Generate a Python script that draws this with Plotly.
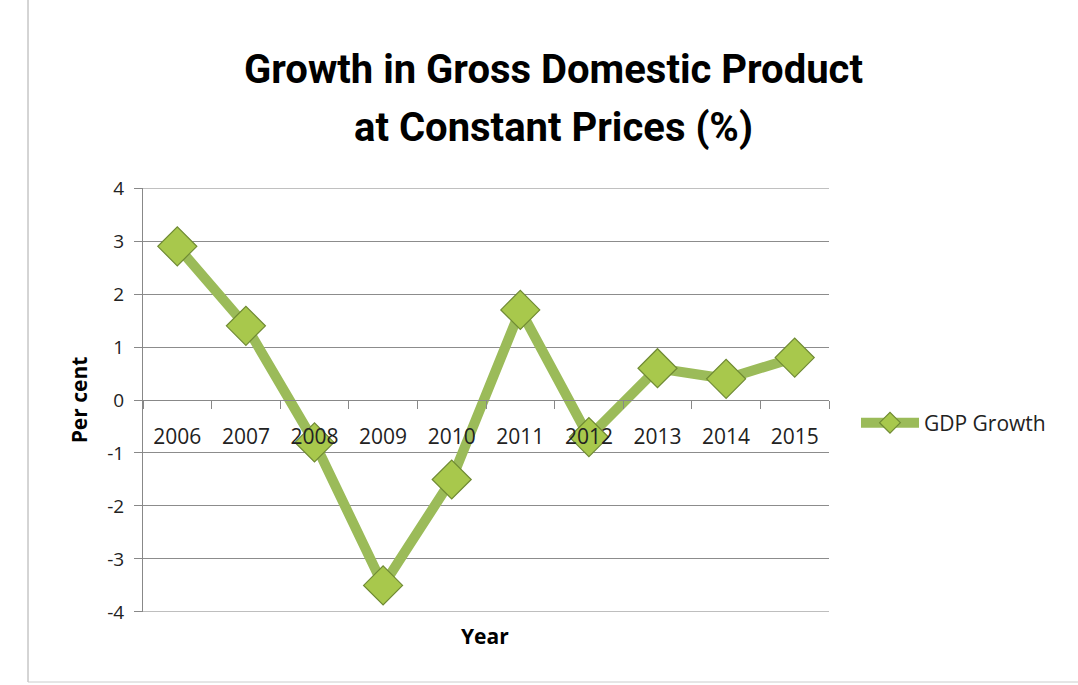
import plotly.graph_objects as go

years = ["2006", "2007", "2008", "2009", "2010", "2011", "2012", "2013", "2014", "2015"]
gdp_growth = [2.9, 1.4, -0.8, -3.5, -1.5, 1.7, -0.7, 0.6, 0.4, 0.8]
y_ticks = [-4, -3, -2, -1, 0, 1, 2, 3, 4]
y_tick_text = ["-4", "-3", "-2", "-1", "0", "1", "2", "3", "4"]
title_lines = ["Growth in Gross Domestic Product", "at Constant Prices (%)"]

W, H = 1078, 685
L, R, T, B = 143, 249, 188, 73
pw, ph = W - L - R, H - T - B

def px_x(p):
    return (p - L) / pw

def px_y(p):
    return (H - B - p) / ph

FONT = "Open Sans, Lato, sans-serif"
TFONT = "Roboto, Open Sans, sans-serif"

fig = go.Figure()
fig.add_trace(go.Scatter(
    x=years, y=gdp_growth, name="GDP Growth", mode="lines+markers",
    line=dict(color="#9bbb59", width=10),
    marker=dict(symbol="diamond", size=30, color="#a8c84c",
                line=dict(color="#6f8a33", width=1.2)),
))

fig.update_layout(
    width=W, height=H,
    margin=dict(l=L, r=R, t=T, b=B),
    paper_bgcolor="white", plot_bgcolor="white",
    showlegend=True,
    legend=dict(x=px_x(856), y=px_y(423), xanchor="left", yanchor="middle",
                font=dict(family=FONT, size=21, color="#222"),
                itemwidth=58, bgcolor="rgba(0,0,0,0)"),
    xaxis=dict(type="category", range=[-0.5, 9.5], anchor="free", position=0.5,
               showline=True, linecolor="#888", linewidth=1,
               ticks="outside", tickson="boundaries", ticklen=8, tickcolor="#888",
               ticklabelstandoff=18,
               showgrid=False, tickfont=dict(family=FONT, size=21, color="#222")),
    yaxis=dict(range=[-4.001, 4.001], tickvals=y_ticks, ticktext=y_tick_text,
               showline=True, linecolor="#888", linewidth=1, ticks="outside", ticklen=8,
               tickcolor="#888", showgrid=True, gridcolor="#8c8c8c", gridwidth=1,
               ticklabelstandoff=6,
               zeroline=False, tickfont=dict(family=FONT, size=19, color="#222"),
               title=dict(text="<b>Per cent</b>", standoff=13,
                          font=dict(family=FONT, size=21, color="black"))),
)

# gridlines at the two range edges (plotly hides them at the frame)
for yv in (y_ticks[0], y_ticks[-1]):
    fig.add_shape(type="line", xref="paper", yref="y", x0=0, x1=1, y0=yv, y1=yv,
                  line=dict(color="#8c8c8c", width=1), layer="below")

for line_text, cy in zip(title_lines, [70, 128]):
    fig.add_annotation(text="<b>" + line_text + "</b>", x=px_x(553), y=px_y(cy),
                       xref="paper", yref="paper", xanchor="center", yanchor="middle",
                       showarrow=False,
                       font=dict(family=TFONT, size=40, color="black"))

fig.add_annotation(text="<b>Year</b>", x=px_x(485), y=px_y(636), xref="paper", yref="paper",
                   xanchor="center", yanchor="middle",
                   showarrow=False, font=dict(family=FONT, size=21, color="black"))

# outer chart frame (left and bottom edges visible)
fig.add_shape(type="line", xref="paper", yref="paper",
              x0=px_x(28), x1=px_x(28), y0=px_y(682), y1=px_y(0),
              line=dict(color="#aaaaaa", width=1))
fig.add_shape(type="line", xref="paper", yref="paper",
              x0=px_x(28), x1=px_x(1078), y0=px_y(682), y1=px_y(682),
              line=dict(color="#cccccc", width=1))

fig.write_html("out.html")
